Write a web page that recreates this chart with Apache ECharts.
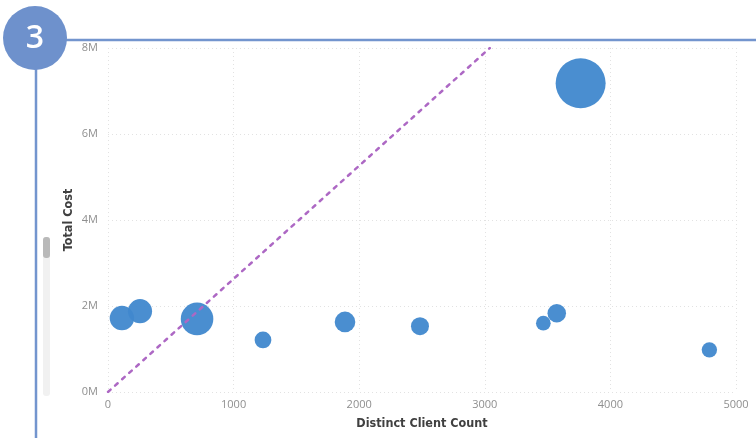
<!DOCTYPE html>
<html>
<head>
<meta charset="utf-8">
<script src="https://cdn.jsdelivr.net/npm/echarts@6/dist/echarts.min.js"></script>
<style>
html,body{margin:0;padding:0;background:#fff;}
#chart{width:756px;height:438px;}
</style>
</head>
<body>
<div id="chart"></div>
<script>
// Data
var clientCount = [111, 255, 709, 1234, 1887, 2484, 3466, 3573, 4788, 3763];
var totalCost   = [1720000, 1880000, 1700000, 1210000, 1630000, 1530000, 1600000, 1830000, 980000, 7180000];
var bubbleWeight = [150, 145, 265, 70, 106, 81, 54, 86, 59, 625];
var refLineX = [0, 3040];
var refLineY = [0, 8000000];
var xTicks = [0, 1000, 2000, 3000, 4000, 5000];
var yTicks = ['0M', '2M', '4M', '6M', '8M'];

var bubbles = clientCount.map(function (x, i) { return [x, totalCost[i], bubbleWeight[i]]; });
var refLine = refLineX.map(function (x, i) { return [x, refLineY[i]]; });

var chart = echarts.init(document.getElementById('chart'), null, { renderer: 'canvas' });
var tickFont = { color: '#8f8f8f', fontSize: 11, fontFamily: 'Open Sans' };
var titleFont = { color: '#404040', fontSize: 12.5, fontWeight: 'bold', fontFamily: "'DejaVu Sans Condensed', 'Liberation Sans Narrow', Roboto" };
var option = {
  animation: false,
  backgroundColor: '#ffffff',
  grid: { left: 108, right: 20, top: 48, bottom: 46, containLabel: false },
  xAxis: {
    type: 'value', min: 0, max: 5000, interval: 1000,
    name: 'Distinct Client Count', nameLocation: 'middle', nameGap: 25,
    nameMoveOverlap: false,
    nameTextStyle: titleFont,
    axisLine: { show: false }, axisTick: { show: false },
    axisLabel: Object.assign({ margin: 7, formatter: function (v) { return xTicks.indexOf(v) >= 0 ? String(v) : ''; } }, tickFont),
    splitLine: { show: true, lineStyle: { color: '#e2e2e2', type: [1, 3], width: 1 } }
  },
  yAxis: {
    type: 'value', min: 0, max: 8000000, interval: 2000000,
    name: 'Total Cost', nameLocation: 'middle', nameGap: 33, nameRotate: 90,
    nameMoveOverlap: false,
    nameTextStyle: titleFont,
    axisLine: { show: false }, axisTick: { show: false },
    axisLabel: Object.assign({ margin: 10, formatter: function (v) { return yTicks[Math.round(v / 2000000)]; } }, tickFont),
    splitLine: { show: true, lineStyle: { color: '#e2e2e2', type: [1, 3], width: 1 } }
  },
  series: [
    {
      type: 'line', data: refLine, symbol: 'none', z: 3,
      lineStyle: { color: '#ad68c4', width: 2.5, type: [3.5, 6], cap: 'round' }
    },
    {
      type: 'scatter', data: bubbles, z: 2,
      symbolSize: function (d) { return 2 * Math.sqrt(d[2]); },
      itemStyle: { color: '#4088cd', opacity: 0.95 }
    }
  ],
  graphic: [
    { type: 'line', shape: { x1: 60, y1: 40, x2: 756, y2: 40 }, style: { stroke: '#7395ce', lineWidth: 2.5 }, z: 10 },
    { type: 'line', shape: { x1: 36, y1: 60, x2: 36, y2: 438 }, style: { stroke: '#7395ce', lineWidth: 2.5 }, z: 10 },
    { type: 'circle', shape: { cx: 35, cy: 38, r: 32 }, style: { fill: '#6e91cc' }, z: 11 },
    { type: 'text', x: 35, y: 39, style: { text: '3', fill: '#ffffff', font: '600 32px "Open Sans"', textAlign: 'center', textVerticalAlign: 'middle' }, z: 12 },
    { type: 'rect', shape: { x: 43, y: 237, width: 7, height: 159, r: 3 }, style: { fill: '#f1f1f1' }, z: 10 },
    { type: 'rect', shape: { x: 43, y: 237, width: 7, height: 21, r: 3 }, style: { fill: '#b9b9b9' }, z: 11 }
  ]
};
chart.setOption(option);
</script>
</body>
</html>
